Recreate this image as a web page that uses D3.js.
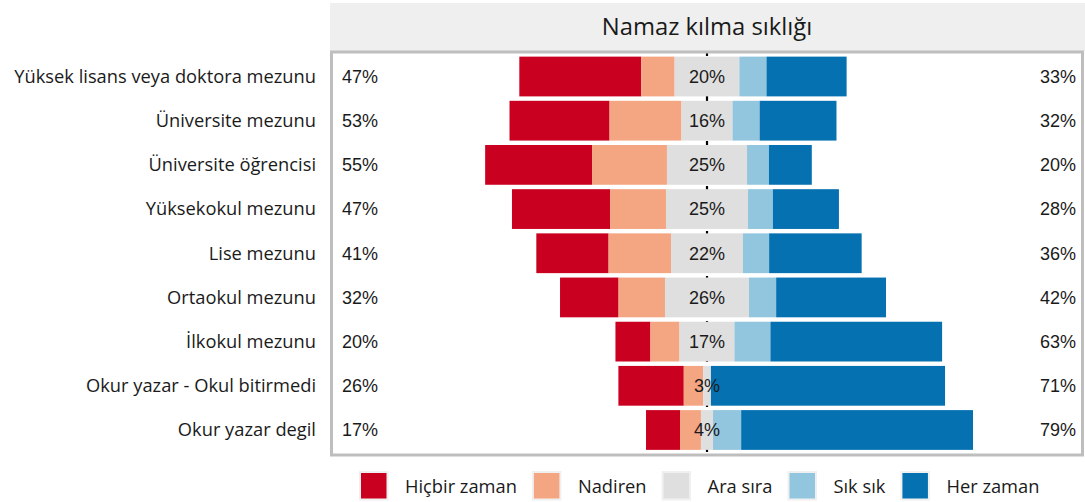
<!DOCTYPE html>
<html>
<head>
<meta charset="utf-8">
<script src="https://cdn.jsdelivr.net/npm/d3@7"></script>
<style>
  body { margin: 0; background: #fff; }
</style>
</head>
<body>
<script>
// categories (top to bottom)
var categories = [
    "Yüksek lisans veya doktora mezunu",
    "Üniversite mezunu",
    "Üniversite öğrencisi",
    "Yüksekokul mezunu",
    "Lise mezunu",
    "Ortaokul mezunu",
    "İlkokul mezunu",
    "Okur yazar - Okul bitirmedi",
    "Okur yazar degil"
];

var levels = ["Hiçbir zaman", "Nadiren", "Ara sıra", "Sık sık", "Her zaman"];
var colors = ["#ca0020", "#f4a582", "#dfdfdf", "#92c5de", "#0571b0"];

// percentages per level
var hicbirZaman = [37.3, 30.6, 32.7, 30.0, 22.1, 17.9, 10.7, 20.0, 10.4];
var nadiren     = [10.2, 22.0, 22.9, 17.1, 19.1, 14.2, 8.9, 5.9, 6.4];
var araSira     = [19.8, 15.6, 24.5, 25.1, 22.0, 25.7, 16.8, 2.4, 3.7];
var sikSik      = [8.3, 8.3, 6.7, 7.6, 8.0, 8.3, 11.0, 0, 8.6];
var herZaman    = [24.5, 23.5, 13.1, 20.2, 28.3, 33.6, 52.5, 71.6, 70.9];

// labels
var leftPct   = ["47%", "53%", "55%", "47%", "41%", "32%", "20%", "26%", "17%"];
var centerPct = ["20%", "16%", "25%", "25%", "22%", "26%", "17%", "3%", "4%"];
var rightPct  = ["33%", "32%", "20%", "28%", "36%", "42%", "63%", "71%", "79%"];

var title = "Namaz kılma sıklığı";

var width = 1085, height = 502;
var panel = { left: 330, right: 1084, top: 51, bottom: 456 };

const svg = d3.select("body").append("svg")
    .attr("width", width)
    .attr("height", height);

var x = d3.scaleLinear()
    .domain([-115.3, 115.3])
    .range([panel.left, panel.right]);

var y = d3.scalePoint()
    .domain(categories)
    .range([50, 456.5])
    .padding(0.6);

var barH = y.step() * 0.9;

// build segments, neutral centered on zero
var series = [hicbirZaman, nadiren, araSira, sikSik, herZaman];
var segments = [];
categories.forEach(function (c, i) {
    var start = -araSira[i] / 2 - nadiren[i] - hicbirZaman[i];
    series.forEach(function (s, k) {
        segments.push({ cat: c, level: k, x0: start, x1: start + s[i] });
        start += s[i];
    });
});

// strip
svg.append("rect")
    .attr("x", panel.left)
    .attr("y", 3)
    .attr("width", width - panel.left)
    .attr("height", 48)
    .attr("fill", "#efefef");

svg.append("text")
    .attr("x", x(0))
    .attr("y", 27)
    .attr("dy", "0.35em")
    .attr("text-anchor", "middle")
    .attr("font-family", "Open Sans")
    .attr("font-size", 23.8)
    .attr("fill", "#1a1a1a")
    .text(title);

// center dashed line (behind the bars)
svg.append("line")
    .attr("x1", x(0)).attr("x2", x(0))
    .attr("y1", panel.top).attr("y2", panel.bottom)
    .attr("stroke", "black")
    .attr("stroke-width", 2.2)
    .attr("stroke-dasharray", "5,4");

svg.append("g")
    .selectAll("rect")
    .data(segments)
    .enter()
    .append("rect")
    .attr("x", d => x(d.x0))
    .attr("width", d => x(d.x1) - x(d.x0))
    .attr("y", d => y(d.cat) - barH / 2)
    .attr("height", barH)
    .attr("fill", d => colors[d.level]);

// panel border
svg.append("rect")
    .attr("x", panel.left + 1.5)
    .attr("y", panel.top + 1)
    .attr("width", panel.right - panel.left - 3)
    .attr("height", panel.bottom - panel.top - 2)
    .attr("fill", "none")
    .attr("stroke", "#bebebe")
    .attr("stroke-width", 3);

// category labels
svg.append("g")
    .selectAll("text")
    .data(categories)
    .enter()
    .append("text")
    .attr("x", 316)
    .attr("y", d => y(d))
    .attr("dy", "0.35em")
    .attr("text-anchor", "end")
    .attr("font-family", "Open Sans")
    .attr("font-size", 18.3)
    .attr("fill", "#1a1a1a")
    .text(d => d);

function pctLabels(arr, xpos, anchor) {
    svg.append("g")
        .selectAll("text")
        .data(arr)
        .enter()
        .append("text")
        .attr("x", xpos)
        .attr("y", (d, i) => y(categories[i]))
        .attr("dy", "0.35em")
        .attr("text-anchor", anchor)
        .attr("font-family", "Liberation Sans, Arial")
        .attr("font-size", 18)
        .attr("fill", "#1a1a1a")
        .text(d => d);
}
pctLabels(leftPct, 342, "start");
pctLabels(centerPct, x(0), "middle");
pctLabels(rightPct, 1076, "end");

// legend
var legend = svg.append("g");
var lx = 359;
levels.forEach(function (lv, k) {
    legend.append("rect")
        .attr("x", lx + 1)
        .attr("y", 472)
        .attr("width", 27.5)
        .attr("height", 27.5)
        .attr("fill", colors[k])
        .attr("stroke", "#f0f0f0")
        .attr("stroke-width", 2);
    var t = legend.append("text")
        .attr("x", lx + 46)
        .attr("y", 487)
        .attr("dy", "0.35em")
        .attr("font-family", "Open Sans")
        .attr("font-size", 18.3)
        .attr("fill", "#1a1a1a")
        .text(lv);
    lx += 46 + t.node().getComputedTextLength() + 15;
});
</script>
</body>
</html>
